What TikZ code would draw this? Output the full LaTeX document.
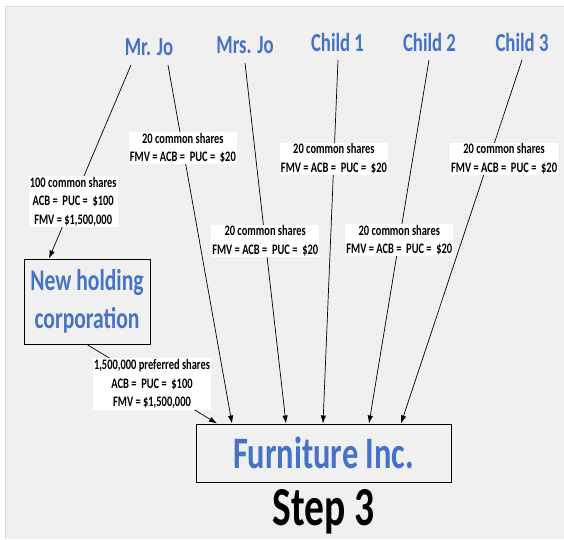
\documentclass[tikz,border=0pt]{standalone}
\usepackage{fontspec}
\setmainfont{Carlito}[FakeStretch=0.72]
\usetikzlibrary{arrows.meta}
\definecolor{nameblue}{HTML}{4472C4}
\definecolor{bggray}{HTML}{F0F0F0}
\definecolor{edgegray}{HTML}{D8D8D8}
\tikzset{
  person/.style={text=nameblue,font=\bfseries\fontsize{26}{30}\selectfont,inner sep=0pt,anchor=base},
  shares/.style={fill=white,align=center,font=\bfseries\fontsize{14.5}{18.5}\selectfont,inner sep=1pt},
  corp/.style={rectangle,draw,line width=1pt,text=nameblue,align=center},
  own/.style={line width=0.7pt,-{Latex[length=8pt,width=5.5pt]}}
}
\begin{document}
\begin{tikzpicture}[x=1pt,y=-1pt]
\useasboundingbox (0,0) rectangle (564,539);
\fill [white] (0,0) rectangle (564,539);
\fill [bggray] (5,6) rectangle (564,539);
\draw [edgegray,line width=0.8pt] (5,539) -- (5,6) -- (564,6);
\node (mrjo)    at (149,55)    [person] {Mr. Jo};
\node (mrsjo)   at (245,53)    [person] {Mrs. Jo};
\node (child1)  at (337.5,51)  [person] {Child 1};
\node (child2)  at (429.5,51)  [person] {Child 2};
\node (child3)  at (522,51)    [person] {Child 3};
\node (holding) at (87,301.5)  [corp,minimum width=126,minimum height=85,font=\bfseries\fontsize{30}{38}\selectfont] {New holding\\corporation};
\node (furn)    at (323.5,453) [corp,minimum width=255,minimum height=58,font=\bfseries\fontsize{45}{50}\selectfont] {Furniture Inc.};
\node (step)    at (323.5,525) [anchor=base,inner sep=0pt,font=\bfseries\fontsize{55}{60}\selectfont] {Step 3};
\draw [own] ([shift={(-18,10)}]mrjo.base) -- ([shift={(-38,0)}]holding.north)
    node [shares,pos=0.705] {100 common shares\\ACB = ~PUC = ~\$100\\FMV = \$1,500,000};
\draw [own] ([shift={(19,10)}]mrjo.base) -- ([shift={(-91.5,0)}]furn.north)
    node [shares,pos=0.232] {20 common shares\\FMV = ACB = ~PUC = ~\$20};
\draw [own] ([shift={(0,10)}]mrsjo.base) -- ([shift={(-37.5,0)}]furn.north)
    node [shares,pos=0.493] {20 common shares\\FMV = ACB = ~PUC = ~\$20};
\draw [own] ([shift={(0.5,9)}]child1.base) -- ([shift={(-0.5,0)}]furn.north)
    node [shares,pos=0.272] {20 common shares\\FMV = ACB = ~PUC = ~\$20};
\draw [own] ([shift={(-0.5,9)}]child2.base) -- ([shift={(45.5,0)}]furn.north)
    node [shares,pos=0.495] {20 common shares\\FMV = ACB = ~PUC = ~\$20};
\draw [own] ([shift={(0,9)}]child3.base) -- ([shift={(77.5,0)}]furn.north)
    node [shares,pos=0.272,xshift=15] {20 common shares\\FMV = ACB = ~PUC = ~\$20};
\draw [own] (holding.south) -- ([shift={(-106.5,0)}]furn.north)
    node [shares,pos=0.5] {1,500,000 preferred shares\\ACB = ~PUC = ~\$100\\FMV = \$1,500,000};
\end{tikzpicture}
\end{document}
